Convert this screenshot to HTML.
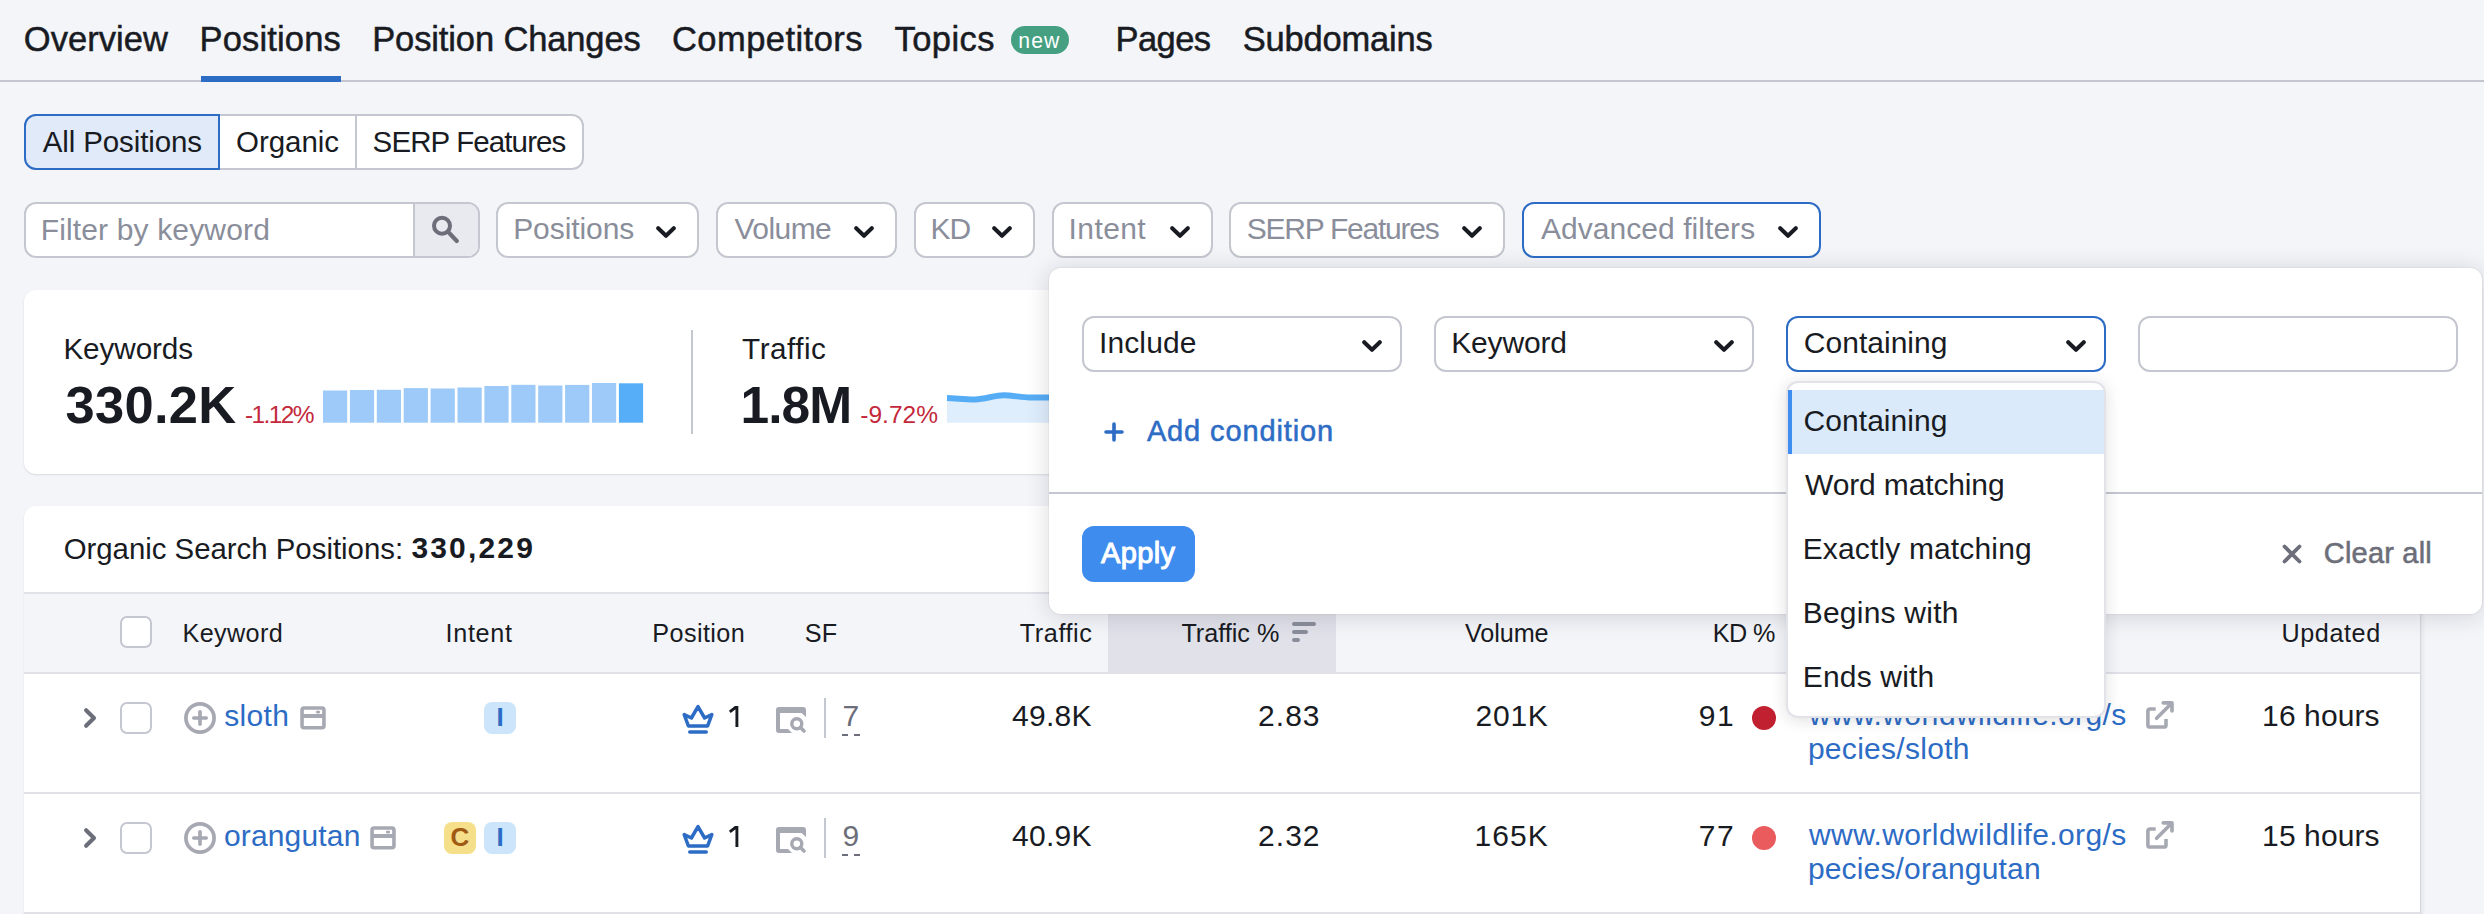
<!DOCTYPE html>
<html><head><meta charset="utf-8"><title>Positions</title>
<style>
html,body{margin:0;padding:0}
body{width:2484px;height:914px;overflow:hidden;position:relative;background:#f4f5f9;font-family:'Liberation Sans', sans-serif;color:#191b23}
.t{position:absolute;white-space:nowrap;line-height:1}
</style></head><body>
<div style="position:absolute;left:0px;top:80px;width:2484px;height:2px;background:#c4c7cf"></div>
<div style="position:absolute;left:201px;top:76px;width:140px;height:6px;background:#2d6cc5"></div>
<div class="t" style="top:21.97px;font-size:34.5px;color:#191b23;letter-spacing:0.051px;left:23.77px;-webkit-text-stroke:0.5px #191b23">Overview</div>
<div class="t" style="top:21.97px;font-size:34.5px;color:#191b23;letter-spacing:0.159px;left:199.54px;-webkit-text-stroke:0.5px #191b23">Positions</div>
<div class="t" style="top:21.97px;font-size:34.5px;color:#191b23;letter-spacing:-0.129px;left:372.24px;-webkit-text-stroke:0.5px #191b23">Position Changes</div>
<div class="t" style="top:21.97px;font-size:34.5px;color:#191b23;letter-spacing:0.455px;left:671.98px;-webkit-text-stroke:0.5px #191b23">Competitors</div>
<div class="t" style="top:21.97px;font-size:34.5px;color:#191b23;letter-spacing:0.458px;left:894.51px;-webkit-text-stroke:0.5px #191b23">Topics</div>
<div class="t" style="top:21.97px;font-size:34.5px;color:#191b23;letter-spacing:-0.56px;left:1115.54px;-webkit-text-stroke:0.5px #191b23">Pages</div>
<div class="t" style="top:21.97px;font-size:34.5px;color:#191b23;letter-spacing:-0.191px;left:1242.68px;-webkit-text-stroke:0.5px #191b23">Subdomains</div>
<div style="position:absolute;left:1011px;top:26px;width:58px;height:28px;background:#45a081;border-radius:14px"></div>
<div class="t" style="top:29.88px;font-size:21.2px;color:#fff;letter-spacing:1.038px;left:1018.32px;">new</div>
<div style="position:absolute;left:24px;top:114px;width:556px;height:52px;border:2px solid #c4c7cf;border-radius:12px;background:#fff"></div>
<div style="position:absolute;left:24px;top:114px;width:192px;height:52px;border:2px solid #2d6cc5;border-radius:12px 0 0 12px;background:#e0eaf8"></div>
<div style="position:absolute;left:355px;top:116px;width:2px;height:52px;background:#c4c7cf"></div>
<div class="t" style="top:127.33px;font-size:29.5px;color:#191b23;letter-spacing:-0.125px;left:42.80px;">All Positions</div>
<div class="t" style="top:127.33px;font-size:29.5px;color:#191b23;letter-spacing:-0.047px;left:236.03px;">Organic</div>
<div class="t" style="top:127.33px;font-size:29.5px;color:#191b23;letter-spacing:-0.89px;left:372.62px;">SERP Features</div>
<div style="position:absolute;left:24px;top:202px;width:452px;height:52px;border:2px solid #c4c7cf;border-radius:12px;background:#fff;overflow:hidden"><div style="position:absolute;left:387px;top:0;width:65px;height:52px;background:#e9eaf0;border-left:2px solid #c4c7cf"></div></div>
<div class="t" style="top:214.70px;font-size:30px;color:#8a8e9b;letter-spacing:0.15px;left:40.70px;">Filter by keyword</div>
<svg style="position:absolute;left:430px;top:212px;overflow:visible" width="30" height="32" viewBox="0 0 30 32"><circle cx="12" cy="13.8" r="8" fill="none" stroke="#6c6e79" stroke-width="4"/><path d="M18 19.8 L26.8 29" stroke="#6c6e79" stroke-width="4.2" stroke-linecap="round"/></svg>
<div style="position:absolute;left:496px;top:202px;width:199px;height:52px;border:2px solid #c4c7cf;border-radius:12px;background:#fff"></div>
<div class="t" style="top:214.00px;font-size:30px;color:#8a8e9b;letter-spacing:-0.075px;left:513.20px;">Positions</div>
<svg style="position:absolute;left:656px;top:226px" width="20" height="12" viewBox="0 0 20 12"><path d="M2.2 2.2 L10.0 9.8 L17.8 2.2" fill="none" stroke="#191b23" stroke-width="4.0" stroke-linecap="round" stroke-linejoin="round"/></svg>
<div style="position:absolute;left:716px;top:202px;width:177px;height:52px;border:2px solid #c4c7cf;border-radius:12px;background:#fff"></div>
<div class="t" style="top:214.00px;font-size:30px;color:#8a8e9b;letter-spacing:-0.56px;left:734.50px;">Volume</div>
<svg style="position:absolute;left:854px;top:226px" width="20" height="12" viewBox="0 0 20 12"><path d="M2.2 2.2 L10.0 9.8 L17.8 2.2" fill="none" stroke="#191b23" stroke-width="4.0" stroke-linecap="round" stroke-linejoin="round"/></svg>
<div style="position:absolute;left:914px;top:202px;width:117px;height:52px;border:2px solid #c4c7cf;border-radius:12px;background:#fff"></div>
<div class="t" style="top:214.00px;font-size:30px;color:#8a8e9b;letter-spacing:-1.2px;left:930.60px;">KD</div>
<svg style="position:absolute;left:992px;top:226px" width="20" height="12" viewBox="0 0 20 12"><path d="M2.2 2.2 L10.0 9.8 L17.8 2.2" fill="none" stroke="#191b23" stroke-width="4.0" stroke-linecap="round" stroke-linejoin="round"/></svg>
<div style="position:absolute;left:1052px;top:202px;width:157px;height:52px;border:2px solid #c4c7cf;border-radius:12px;background:#fff"></div>
<div class="t" style="top:214.00px;font-size:30px;color:#8a8e9b;letter-spacing:0.4px;left:1068.60px;">Intent</div>
<svg style="position:absolute;left:1170px;top:226px" width="20" height="12" viewBox="0 0 20 12"><path d="M2.2 2.2 L10.0 9.8 L17.8 2.2" fill="none" stroke="#191b23" stroke-width="4.0" stroke-linecap="round" stroke-linejoin="round"/></svg>
<div style="position:absolute;left:1229px;top:202px;width:272px;height:52px;border:2px solid #c4c7cf;border-radius:12px;background:#fff"></div>
<div class="t" style="top:214.00px;font-size:30px;color:#8a8e9b;letter-spacing:-1.233px;left:1246.70px;">SERP Features</div>
<svg style="position:absolute;left:1462px;top:226px" width="20" height="12" viewBox="0 0 20 12"><path d="M2.2 2.2 L10.0 9.8 L17.8 2.2" fill="none" stroke="#191b23" stroke-width="4.0" stroke-linecap="round" stroke-linejoin="round"/></svg>
<div style="position:absolute;left:1522px;top:202px;width:295px;height:52px;border:2px solid #2d6cc5;border-radius:12px;background:#fff"></div>
<div class="t" style="top:214.00px;font-size:30px;color:#8a8e9b;letter-spacing:0.047px;left:1541.00px;">Advanced filters</div>
<svg style="position:absolute;left:1778px;top:226px" width="20" height="12" viewBox="0 0 20 12"><path d="M2.2 2.2 L10.0 9.8 L17.8 2.2" fill="none" stroke="#191b23" stroke-width="4.0" stroke-linecap="round" stroke-linejoin="round"/></svg>
<div style="position:absolute;left:24px;top:290px;width:2436px;height:184px;background:#fff;border-radius:12px;box-shadow:0 1px 2px rgba(25,27,35,0.12)"></div>
<div class="t" style="top:334.06px;font-size:29.7px;color:#191b23;letter-spacing:-0.088px;left:63.42px;">Keywords</div>
<div class="t" style="top:379.18px;font-size:52.5px;color:#191b23;font-weight:700;letter-spacing:0.285px;left:65.45px;">330.2K</div>
<div class="t" style="top:402.98px;font-size:24.5px;color:#c4283c;letter-spacing:-1.581px;left:244.92px;">-1.12%</div>
<svg style="position:absolute;left:323px;top:383px;overflow:visible" width="320" height="40" viewBox="0 0 320 40"><rect x="0.00" y="7.50" width="24.2" height="32.20" fill="#9dcaf8"/><rect x="26.90" y="7.00" width="24.2" height="32.70" fill="#9dcaf8"/><rect x="53.80" y="6.80" width="24.2" height="32.90" fill="#9dcaf8"/><rect x="80.70" y="5.10" width="24.2" height="34.60" fill="#9dcaf8"/><rect x="107.60" y="5.50" width="24.2" height="34.20" fill="#9dcaf8"/><rect x="134.50" y="4.50" width="24.2" height="35.20" fill="#9dcaf8"/><rect x="161.40" y="3.00" width="24.2" height="36.70" fill="#9dcaf8"/><rect x="188.30" y="1.80" width="24.2" height="37.90" fill="#9dcaf8"/><rect x="215.20" y="2.50" width="24.2" height="37.20" fill="#9dcaf8"/><rect x="242.10" y="1.90" width="24.2" height="37.80" fill="#9dcaf8"/><rect x="269.00" y="0.00" width="24.2" height="39.70" fill="#9dcaf8"/><rect x="295.90" y="0.30" width="24.2" height="39.40" fill="#56aef8"/></svg>
<div style="position:absolute;left:691px;top:330px;width:2px;height:104px;background:#c4c7cf"></div>
<div class="t" style="top:334.25px;font-size:29.7px;color:#191b23;letter-spacing:0.501px;left:742.11px;">Traffic</div>
<div class="t" style="top:379.73px;font-size:51.5px;color:#191b23;font-weight:700;letter-spacing:-0.883px;left:740.41px;">1.8M</div>
<div class="t" style="top:402.68px;font-size:24.5px;color:#c4283c;letter-spacing:-0.001px;left:860.32px;">-9.72%</div>
<svg style="position:absolute;left:947px;top:380px;overflow:visible" width="110" height="44" viewBox="0 0 110 44"><path d="M0 18 C10 18.4 20 19.6 28.2 19.4 C38 19.1 48 15.2 56.6 15.2 C66 15.2 74 17.5 82.6 17.5 L110 17.4 L110 42.8 L0 42.8 Z" fill="#dfeefd"/><path d="M0 18 C10 18.4 20 19.6 28.2 19.4 C38 19.1 48 15.2 56.6 15.2 C66 15.2 74 17.5 82.6 17.5 L110 17.4" fill="none" stroke="#56adf6" stroke-width="6"/></svg>
<div style="position:absolute;left:24px;top:506px;width:2396px;height:420px;background:#fff;border-radius:12px 12px 0 0;box-shadow:0 1px 2px rgba(25,27,35,0.10)"></div>
<div class="t" style="top:533.81px;font-size:29.4px;color:#191b23;letter-spacing:-0.014px;left:63.63px;">Organic Search Positions:</div>
<div class="t" style="top:533.30px;font-size:30px;color:#191b23;font-weight:700;letter-spacing:2.167px;left:411.40px;">330,229</div>
<div style="position:absolute;left:24px;top:592px;width:2396px;height:2px;background:#e0e1e9"></div>
<div style="position:absolute;left:24px;top:594px;width:2396px;height:78px;background:#f4f5f9"></div>
<div style="position:absolute;left:1108px;top:594px;width:228px;height:78px;background:#e0e1e9"></div>
<div style="position:absolute;left:24px;top:672px;width:2396px;height:2px;background:#e0e1e9"></div>
<div style="position:absolute;left:24px;top:792px;width:2396px;height:2px;background:#e0e1e9"></div>
<div style="position:absolute;left:24px;top:912px;width:2396px;height:2px;background:#e0e1e9"></div>
<div style="position:absolute;left:2420px;top:594px;width:1px;height:320px;background:#d6d7de"></div>
<div style="position:absolute;left:2421px;top:594px;width:5px;height:320px;background:linear-gradient(90deg,rgba(25,27,35,0.06),rgba(25,27,35,0))"></div>
<div style="position:absolute;left:120px;top:616px;width:28px;height:28px;border:2px solid #c4c7cf;border-radius:7px;background:#fff"></div>
<div class="t" style="top:621.18px;font-size:25.2px;color:#191b23;letter-spacing:0.383px;left:182.48px;">Keyword</div>
<div class="t" style="top:621.18px;font-size:25.2px;color:#191b23;letter-spacing:0.694px;left:445.53px;">Intent</div>
<div class="t" style="top:621.18px;font-size:25.2px;color:#191b23;letter-spacing:0.41px;left:652.28px;">Position</div>
<div class="t" style="top:621.18px;font-size:25.2px;color:#191b23;left:804.84px;">SF</div>
<div class="t" style="top:621.18px;font-size:25.2px;color:#191b23;letter-spacing:0.577px;right:1391.55px;">Traffic</div>
<div class="t" style="top:621.18px;font-size:25.2px;color:#191b23;letter-spacing:-0.014px;right:1204.71px;">Traffic %</div>
<svg style="position:absolute;left:1290px;top:620px;overflow:visible" width="28" height="24" viewBox="0 0 28 24"><path d="M4 4 H24 M4 12 H16 M4 20 H8" stroke="#8a8e9b" stroke-width="4" stroke-linecap="round"/></svg>
<div class="t" style="top:621.18px;font-size:25.2px;color:#191b23;letter-spacing:-0.091px;right:935.55px;">Volume</div>
<div class="t" style="top:621.18px;font-size:25.2px;color:#191b23;letter-spacing:-0.6px;right:709.29px;">KD %</div>
<div class="t" style="top:621.18px;font-size:25.2px;color:#191b23;letter-spacing:0.579px;right:103.29px;">Updated</div>
<svg style="position:absolute;left:83px;top:708px;overflow:visible" width="14" height="20" viewBox="0 0 14 20"><path d="M3.1 2.2 L11 10 L3.1 17.8" fill="none" stroke="#6c6e79" stroke-width="4.1" stroke-linecap="round" stroke-linejoin="round"/></svg>
<div style="position:absolute;left:120px;top:702px;width:28px;height:28px;border:2px solid #c4c7cf;border-radius:7px;background:#fff"></div>
<svg style="position:absolute;left:184px;top:702px;overflow:visible" width="32" height="32" viewBox="0 0 32 32"><circle cx="16" cy="16" r="14.1" fill="none" stroke="#a6a8b2" stroke-width="3.7"/><path d="M16 9.8 V22.2 M9.8 16 H22.2" stroke="#a6a8b2" stroke-width="3.6" stroke-linecap="round"/></svg>
<div class="t" style="top:701.00px;font-size:30px;color:#2d6cc5;letter-spacing:0.35px;left:224.20px;">sloth</div>
<svg style="position:absolute;left:300px;top:706px;overflow:visible" width="26" height="24" viewBox="0 0 26 24"><rect x="2.05" y="2.05" width="21.9" height="19.7" rx="2" fill="none" stroke="#a6a8b2" stroke-width="3.6"/><path d="M2 10 H24" stroke="#a6a8b2" stroke-width="4"/><ellipse cx="18" cy="6" rx="2.2" ry="1.6" fill="#a6a8b2"/></svg>
<div style="position:absolute;left:484px;top:702px;width:32px;height:32px;background:#cce5fa;border-radius:8px"></div>
<div class="t" style="left:484px;width:32px;text-align:center;top:701px;line-height:32px;font-size:26px;font-weight:700;color:#2d6cc5">I</div>
<svg style="position:absolute;left:682px;top:704px;overflow:visible" width="32" height="30" viewBox="0 0 32 30"><path d="M2.2 10.6 L9.4 14 L16 2.6 L22.6 14 L29.8 10.6 L25.6 22 H6.4 Z" fill="none" stroke="#2d6cc5" stroke-width="3.5" stroke-linejoin="round"/><path d="M7.8 28 H24.2" stroke="#2d6cc5" stroke-width="3.6" stroke-linecap="round"/></svg>
<svg style="position:absolute;left:729px;top:706px;overflow:visible" width="11" height="22" viewBox="0 0 11 22"><path d="M0.8 5.8 L6.4 1.5 H7.9 V21" fill="none" stroke="#191b23" stroke-width="2.9" stroke-linejoin="miter"/></svg>
<svg style="position:absolute;left:776px;top:707px;overflow:visible" width="30" height="26" viewBox="0 0 30 26"><path d="M0 3 Q0 0 3 0 H27 Q30 0 30 3 V10 L25.5 6 H4 V22 H12 L16 26 H3 Q0 26 0 23 Z" fill="#a6a8b2"/><circle cx="20.8" cy="16.8" r="5" fill="none" stroke="#a6a8b2" stroke-width="3.5"/><path d="M24.5 20.5 L28 24" stroke="#a6a8b2" stroke-width="3.6" stroke-linecap="round"/></svg>
<div style="position:absolute;left:824px;top:698px;width:2px;height:40px;background:#c4c7cf"></div>
<div class="t" style="top:701.00px;font-size:30px;color:#6c6e79;left:842.50px;">7</div>
<svg style="position:absolute;left:842px;top:734px;overflow:visible" width="20" height="2" viewBox="0 0 20 2"><path d="M0 1 H6 M12 1 H18" stroke="#6c6e79" stroke-width="2"/></svg>
<div class="t" style="top:701.00px;font-size:30px;color:#191b23;letter-spacing:0.275px;right:1392.23px;">49.8K</div>
<div class="t" style="top:701.00px;font-size:30px;color:#191b23;letter-spacing:1.0px;right:1163.51px;">2.83</div>
<div class="t" style="top:701.00px;font-size:30px;color:#191b23;letter-spacing:0.767px;right:935.37px;">201K</div>
<div class="t" style="top:701.00px;font-size:30px;color:#191b23;letter-spacing:1.4px;right:749.03px;">91</div>
<div style="position:absolute;left:1752px;top:706px;width:24px;height:24px;border-radius:50%;background:#c0202f"></div>
<div class="t" style="top:699.50px;font-size:30px;color:#2d6cc5;letter-spacing:0.405px;left:1809.00px;">www.worldwildlife.org/s</div>
<div class="t" style="top:733.50px;font-size:30px;color:#2d6cc5;letter-spacing:0.291px;left:1807.90px;">pecies/sloth</div>
<svg style="position:absolute;left:2146px;top:701px;overflow:visible" width="28" height="28" viewBox="0 0 28 28"><path d="M9.7 8 H4 Q1.9 8 1.9 10.1 V23.9 Q1.9 26 4 26 H17.9 Q20 26 20 23.9 V18" fill="none" stroke="#a6a8b2" stroke-width="3.6"/><path d="M10.6 17.3 L25.6 2.3 M17.3 1.9 H26 V9.9" fill="none" stroke="#a6a8b2" stroke-width="3.6" stroke-linecap="round" stroke-linejoin="round"/></svg>
<div class="t" style="top:701.00px;font-size:30px;color:#191b23;letter-spacing:0.1px;right:104.35px;">16 hours</div>
<svg style="position:absolute;left:83px;top:828px;overflow:visible" width="14" height="20" viewBox="0 0 14 20"><path d="M3.1 2.2 L11 10 L3.1 17.8" fill="none" stroke="#6c6e79" stroke-width="4.1" stroke-linecap="round" stroke-linejoin="round"/></svg>
<div style="position:absolute;left:120px;top:822px;width:28px;height:28px;border:2px solid #c4c7cf;border-radius:7px;background:#fff"></div>
<svg style="position:absolute;left:184px;top:822px;overflow:visible" width="32" height="32" viewBox="0 0 32 32"><circle cx="16" cy="16" r="14.1" fill="none" stroke="#a6a8b2" stroke-width="3.7"/><path d="M16 9.8 V22.2 M9.8 16 H22.2" stroke="#a6a8b2" stroke-width="3.6" stroke-linecap="round"/></svg>
<div class="t" style="top:821.00px;font-size:30px;color:#2d6cc5;letter-spacing:0.163px;left:223.90px;">orangutan</div>
<svg style="position:absolute;left:370px;top:826px;overflow:visible" width="26" height="24" viewBox="0 0 26 24"><rect x="2.05" y="2.05" width="21.9" height="19.7" rx="2" fill="none" stroke="#a6a8b2" stroke-width="3.6"/><path d="M2 10 H24" stroke="#a6a8b2" stroke-width="4"/><ellipse cx="18" cy="6" rx="2.2" ry="1.6" fill="#a6a8b2"/></svg>
<div style="position:absolute;left:444px;top:822px;width:32px;height:32px;background:#f6df8b;border-radius:8px"></div>
<div class="t" style="left:444px;width:32px;text-align:center;top:821px;line-height:32px;font-size:26px;font-weight:700;color:#a05a14">C</div>
<div style="position:absolute;left:484px;top:822px;width:32px;height:32px;background:#cce5fa;border-radius:8px"></div>
<div class="t" style="left:484px;width:32px;text-align:center;top:821px;line-height:32px;font-size:26px;font-weight:700;color:#2d6cc5">I</div>
<svg style="position:absolute;left:682px;top:824px;overflow:visible" width="32" height="30" viewBox="0 0 32 30"><path d="M2.2 10.6 L9.4 14 L16 2.6 L22.6 14 L29.8 10.6 L25.6 22 H6.4 Z" fill="none" stroke="#2d6cc5" stroke-width="3.5" stroke-linejoin="round"/><path d="M7.8 28 H24.2" stroke="#2d6cc5" stroke-width="3.6" stroke-linecap="round"/></svg>
<svg style="position:absolute;left:729px;top:826px;overflow:visible" width="11" height="22" viewBox="0 0 11 22"><path d="M0.8 5.8 L6.4 1.5 H7.9 V21" fill="none" stroke="#191b23" stroke-width="2.9" stroke-linejoin="miter"/></svg>
<svg style="position:absolute;left:776px;top:827px;overflow:visible" width="30" height="26" viewBox="0 0 30 26"><path d="M0 3 Q0 0 3 0 H27 Q30 0 30 3 V10 L25.5 6 H4 V22 H12 L16 26 H3 Q0 26 0 23 Z" fill="#a6a8b2"/><circle cx="20.8" cy="16.8" r="5" fill="none" stroke="#a6a8b2" stroke-width="3.5"/><path d="M24.5 20.5 L28 24" stroke="#a6a8b2" stroke-width="3.6" stroke-linecap="round"/></svg>
<div style="position:absolute;left:824px;top:818px;width:2px;height:40px;background:#c4c7cf"></div>
<div class="t" style="top:821.00px;font-size:30px;color:#6c6e79;left:842.50px;">9</div>
<svg style="position:absolute;left:842px;top:854px;overflow:visible" width="20" height="2" viewBox="0 0 20 2"><path d="M0 1 H6 M12 1 H18" stroke="#6c6e79" stroke-width="2"/></svg>
<div class="t" style="top:821.00px;font-size:30px;color:#191b23;letter-spacing:0.275px;right:1392.23px;">40.9K</div>
<div class="t" style="top:821.00px;font-size:30px;color:#191b23;letter-spacing:1.0px;right:1163.51px;">2.32</div>
<div class="t" style="top:821.00px;font-size:30px;color:#191b23;letter-spacing:1.067px;right:935.07px;">165K</div>
<div class="t" style="top:821.00px;font-size:30px;color:#191b23;letter-spacing:1.4px;right:749.03px;">77</div>
<div style="position:absolute;left:1752px;top:826px;width:24px;height:24px;border-radius:50%;background:#e95b5c"></div>
<div class="t" style="top:819.50px;font-size:30px;color:#2d6cc5;letter-spacing:0.405px;left:1809.00px;">www.worldwildlife.org/s</div>
<div class="t" style="top:853.50px;font-size:30px;color:#2d6cc5;letter-spacing:0.167px;left:1807.90px;">pecies/orangutan</div>
<svg style="position:absolute;left:2146px;top:821px;overflow:visible" width="28" height="28" viewBox="0 0 28 28"><path d="M9.7 8 H4 Q1.9 8 1.9 10.1 V23.9 Q1.9 26 4 26 H17.9 Q20 26 20 23.9 V18" fill="none" stroke="#a6a8b2" stroke-width="3.6"/><path d="M10.6 17.3 L25.6 2.3 M17.3 1.9 H26 V9.9" fill="none" stroke="#a6a8b2" stroke-width="3.6" stroke-linecap="round" stroke-linejoin="round"/></svg>
<div class="t" style="top:821.00px;font-size:30px;color:#191b23;letter-spacing:0.1px;right:104.35px;">15 hours</div>
<div style="position:absolute;left:1049px;top:268px;width:1433px;height:346px;background:#fff;border-radius:12px;box-shadow:0 0 0 1px rgba(25,27,35,0.04),0 2px 24px rgba(25,27,35,0.16)"></div>
<div style="position:absolute;left:1082px;top:316px;width:316px;height:52px;border:2px solid #c4c7cf;border-radius:12px;background:#fff"></div>
<div class="t" style="top:327.80px;font-size:30px;color:#191b23;letter-spacing:0.117px;left:1099.00px;">Include</div>
<svg style="position:absolute;left:1362px;top:340px" width="20" height="12" viewBox="0 0 20 12"><path d="M2.2 2.2 L10.0 9.8 L17.8 2.2" fill="none" stroke="#191b23" stroke-width="4.0" stroke-linecap="round" stroke-linejoin="round"/></svg>
<div style="position:absolute;left:1434px;top:316px;width:316px;height:52px;border:2px solid #c4c7cf;border-radius:12px;background:#fff"></div>
<div class="t" style="top:327.80px;font-size:30px;color:#191b23;letter-spacing:-0.15px;left:1451.20px;">Keyword</div>
<svg style="position:absolute;left:1714px;top:340px" width="20" height="12" viewBox="0 0 20 12"><path d="M2.2 2.2 L10.0 9.8 L17.8 2.2" fill="none" stroke="#191b23" stroke-width="4.0" stroke-linecap="round" stroke-linejoin="round"/></svg>
<div style="position:absolute;left:1786px;top:316px;width:316px;height:52px;border:2px solid #2d6cc5;border-radius:12px;background:#fff"></div>
<div class="t" style="top:327.80px;font-size:30px;color:#191b23;letter-spacing:0.022px;left:1803.80px;">Containing</div>
<svg style="position:absolute;left:2066px;top:340px" width="20" height="12" viewBox="0 0 20 12"><path d="M2.2 2.2 L10.0 9.8 L17.8 2.2" fill="none" stroke="#191b23" stroke-width="4.0" stroke-linecap="round" stroke-linejoin="round"/></svg>
<div style="position:absolute;left:2138px;top:316px;width:316px;height:52px;border:2px solid #c4c7cf;border-radius:12px;background:#fff"></div>
<svg style="position:absolute;left:1104px;top:422px;overflow:visible" width="20" height="20" viewBox="0 0 20 20"><path d="M10 2 V18 M2 10 H18" stroke="#2d6cc5" stroke-width="3.6" stroke-linecap="round"/></svg>
<div class="t" style="top:417.15px;font-size:29px;color:#2d6cc5;letter-spacing:0.875px;left:1146.90px;-webkit-text-stroke:0.55px #2d6cc5">Add condition</div>
<div style="position:absolute;left:1049px;top:492px;width:1433px;height:2px;background:#c4c7cf"></div>
<div style="position:absolute;left:1082px;top:526px;width:113px;height:56px;background:#3f8cef;border-radius:12px"></div>
<div class="t" style="top:539.35px;font-size:29px;color:#fff;letter-spacing:0.375px;left:1101.00px;-webkit-text-stroke:1px #fff">Apply</div>
<svg style="position:absolute;left:2282px;top:544px;overflow:visible" width="20" height="20" viewBox="0 0 20 20"><path d="M2.5 2.5 L17.5 17.5 M17.5 2.5 L2.5 17.5" stroke="#6c6e79" stroke-width="3.8" stroke-linecap="round"/></svg>
<div class="t" style="top:538.95px;font-size:29px;color:#6c6e79;letter-spacing:0.206px;left:2323.75px;-webkit-text-stroke:0.55px #6c6e79">Clear all</div>
<div style="position:absolute;left:1786px;top:381px;width:316px;height:333px;background:#fff;border:2px solid #e2e3e9;border-radius:12px;box-shadow:0 2px 16px rgba(25,27,35,0.14)"></div>
<div style="position:absolute;left:1788px;top:390px;width:316px;height:64px;background:#dbeafb"></div>
<div style="position:absolute;left:1788px;top:390px;width:4px;height:64px;background:#3d8ef0"></div>
<div class="t" style="top:405.50px;font-size:30px;color:#191b23;letter-spacing:0.044px;left:1803.60px;">Containing</div>
<div class="t" style="top:469.50px;font-size:30px;color:#191b23;letter-spacing:-0.142px;left:1805.10px;">Word matching</div>
<div class="t" style="top:533.50px;font-size:30px;color:#191b23;letter-spacing:0.147px;left:1802.70px;">Exactly matching</div>
<div class="t" style="top:597.50px;font-size:30px;color:#191b23;letter-spacing:0.23px;left:1802.70px;">Begins with</div>
<div class="t" style="top:661.50px;font-size:30px;color:#191b23;letter-spacing:0.188px;left:1802.70px;">Ends with</div>
</body></html>
